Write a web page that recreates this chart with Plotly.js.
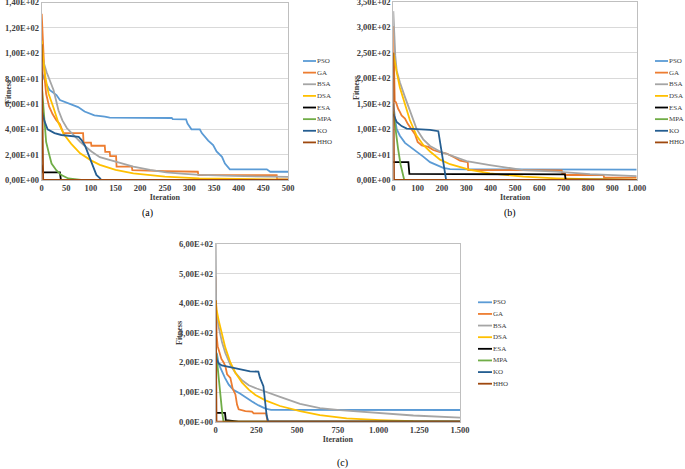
<!DOCTYPE html>
<html>
<head>
<meta charset="utf-8">
<script src="https://cdn.plot.ly/plotly-3.0.1.min.js"></script>
<style>html,body{margin:0;padding:0;background:#fff;}#chart{width:685px;height:469px;}</style>
</head>
<body>
<div id="chart"></div>
<script>
// ---------- data ----------
const algorithms = ['PSO','GA','BSA','DSA','ESA','MPA','KO','HHO'];
const colors = ['#5B9BD5','#ED7D31','#A5A5A5','#FFC000','#000000','#70AD47','#255E91','#9E480E'];

// Panel (a): [iteration, fitness]
const PSO_a = [[0,85],[5,80],[9,76],[16,71],[30,67],[37,63],[47,61.5],[60,60],[74,57.5],[87,54],[107,51],[128,50],[138,49.2],[264,48.9],[266,48],[293,47.9],[296,44.5],[304,40],[321,40],[325,37],[338,31],[348,27.5],[355,22.5],[366,18.3],[372,13],[382,8.4],[457,8.4],[464,6.5],[500,6.5]];
const GA_a = [[0,131],[3,100],[6,80],[9,68],[15,58],[22,52],[30,47],[37,44],[44,37],[84,37],[85,29.5],[100,29.5],[101,27],[128,27],[129,22.2],[138,22.2],[139,18.8],[151,18.8],[152,10.5],[183,10.5],[184,7.8],[250,7],[317,6.5],[318,3.9],[477,3.9],[478,0.5],[500,0.5]];
const BSA_a = [[0,97],[3,94],[10,85],[17,78],[24,71],[34,55],[42,47],[51,41],[65,35],[78,30],[90,26],[101,22.5],[118,18],[139,15.5],[160,13],[186,10.5],[220,8],[253,6],[290,4.8],[321,4],[389,3.2],[450,2.8],[500,2.5]];
const DSA_a = [[0,110],[3,95],[8,80],[14,68],[24,57],[34,45],[45,36],[60,28.5],[78,21],[100,15.5],[118,12],[135,10],[150,8],[186,5.2],[250,2.6],[320,1.3],[400,0.6],[500,0.3]];
const ESA_a = [[0,12],[3,6],[37,6],[39,0],[500,0]];
const MPA_a = [[0,75],[2,65],[5,45],[9,30],[14,22],[20,13],[30,7.5],[40,3.9],[54,1.2],[70,0.2],[80,0],[500,0]];
const KO_a = [[0,55],[2,52],[6,46],[12,40],[26,37],[40,35.5],[60,34.5],[75,34],[81,31.5],[88,27],[94,21],[100,15],[104,10.5],[111,4],[118,1.5],[121,0],[500,0]];
const HHO_a = [[0,107],[3,0],[500,0]];

// Panel (b)
const PSO_b = [[0,150],[3,132],[8,118],[14,100],[27,87],[48,73],[68,66],[96,56],[123,46],[151,35],[178,29],[205,24],[233,21.5],[300,20.8],[1000,20.5]];
const GA_b = [[0,303],[3,200],[6,155],[11,153],[15,145],[20,140],[27,134],[34,127],[48,121],[60,110],[75,100],[89,90],[100,75],[117,68],[144,65],[164,59],[192,55],[219,52],[253,44],[274,38],[294,36],[306,35],[308,19.6],[692,19],[694,13],[705,13],[707,9.8],[864,9.8],[866,4.5],[1000,4.5]];
const BSA_b = [[0,332],[3,280],[8,245],[14,215],[27,192],[48,163],[68,135],[96,100],[123,80],[151,67],[192,56],[247,46],[301,37],[397,29.3],[534,19.6],[671,16.3],[808,11.7],[1000,7.8]];
const DSA_b = [[0,250],[5,235],[14,212],[27,182],[48,150],[68,118],[96,87],[123,69],[151,56],[178,46],[192,40],[233,31],[274,26],[315,20],[397,13],[534,6.5],[671,3.3],[808,1.5],[1000,0.5]];
const ESA_b = [[0,35],[62,35],[66,12],[705,11],[708,1.3],[762,1.3],[765,0],[1000,0]];
const MPA_b = [[0,135],[10,95],[20,60],[30,30],[40,8],[45,0],[1000,0]];
const KO_b = [[0,130],[5,124],[14,114],[34,106],[55,101],[96,100],[151,98.5],[185,96],[190,80],[200,45],[210,15],[217,0],[1000,0]];
const HHO_b = [[0,250],[3,0],[1000,0]];

// Panel (c)
const PSO_c = [[0,235],[8,228],[18,195],[37,170],[57,148],[80,125],[108,108],[149,95],[182,82],[223,68],[264,55],[305,44],[340,40],[1500,39.5]];
const GA_c = [[0,490],[3,350],[6,290],[12,255],[22,232],[35,212],[49,200],[59,188],[70,160],[90,148],[104,112],[121,92],[131,58],[141,42],[182,36],[223,34],[233,28],[310,28],[318,0],[1500,0]];
const BSA_c = [[0,600],[3,380],[8,355],[18,320],[39,268],[59,232],[90,192],[121,165],[162,140],[203,123],[252,112],[313,99],[395,84],[518,60],[640,46],[763,39],[1009,28],[1214,21],[1500,14]];
const DSA_c = [[0,410],[5,380],[18,343],[39,290],[59,250],[90,200],[121,165],[162,132],[203,108],[244,90],[305,72],[395,53],[518,36],[640,22],[804,11.5],[1009,5.5],[1214,1.5],[1500,0.5]];
const ESA_c = [[0,30],[57,30],[62,5],[110,3],[140,0],[1500,0]];
const MPA_c = [[0,250],[10,190],[20,130],[30,80],[40,30],[48,0],[1500,0]];
const KO_c = [[0,230],[6,210],[18,197],[37,190],[88,184],[149,176],[211,170],[262,169],[272,148],[293,120],[303,75],[313,20],[323,0],[1500,0]];
const HHO_c = [[0,410],[5,0],[1500,0]];

// ticks
const xTickA = [0,50,100,150,200,250,300,350,400,450,500];
const xLabA = ['0','50','100','150','200','250','300','350','400','450','500'];
const yTickA = [0,20,40,60,80,100,120,140];
const yLabA = ['0,00E+00','2,00E+01','4,00E+01','6,00E+01','8,00E+01','1,00E+02','1,20E+02','1,40E+02'];
const xTickB = [0,100,200,300,400,500,600,700,800,900,1000];
const xLabB = ['0','100','200','300','400','500','600','700','800','900','1.000'];
const yTickB = [0,50,100,150,200,250,300,350];
const yLabB = ['0,00E+00','5,00E+01','1,00E+02','1,50E+02','2,00E+02','2,50E+02','3,00E+02','3,50E+02'];
const xTickC = [0,250,500,750,1000,1250,1500];
const xLabC = ['0','250','500','750','1.000','1.250','1.500'];
const yTickC = [0,100,200,300,400,500,600];
const yLabC = ['0,00E+00','1,00E+02','2,00E+02','3,00E+02','4,00E+02','5,00E+02','6,00E+02'];

const panels = [
  {series:[PSO_a,GA_a,BSA_a,DSA_a,ESA_a,MPA_a,KO_a,HHO_a], xa:'x', ya:'y'},
  {series:[PSO_b,GA_b,BSA_b,DSA_b,ESA_b,MPA_b,KO_b,HHO_b], xa:'x2', ya:'y2'},
  {series:[PSO_c,GA_c,BSA_c,DSA_c,ESA_c,MPA_c,KO_c,HHO_c], xa:'x3', ya:'y3'}
];

// ---------- build ----------
const W = 685, H = 469;
const px = v => v / W;
const py = v => 1 - v / H;

const traces = [];
panels.forEach(p => {
  p.series.forEach((s, i) => {
    traces.push({
      type: 'scatter', mode: 'lines',
      x: s.map(d => d[0]), y: s.map(d => d[1]),
      name: algorithms[i], xaxis: p.xa, yaxis: p.ya,
      line: {color: colors[i], width: 1.8},
      showlegend: false, hoverinfo: 'skip'
    });
  });
});

const SERIF = 'Liberation Serif, Times New Roman, serif';
const tickFont = {family: SERIF, size: 8.5, color: '#404040', weight: 'bold'};
const titleFont = {family: SERIF, size: 8, color: '#404040', weight: 'bold'};

function xAxis(dom, range, tv, tt, anchor) {
  return {domain: dom, range: range, anchor: anchor, tickmode: 'array', tickvals: tv, ticktext: tt,
    tickfont: tickFont, showgrid: false, zeroline: false, showline: true, linecolor: '#BFBFBF', linewidth: 1,
    mirror: true, ticks: '', fixedrange: true, ticklabeloverflow: 'allow',
    title: {text: 'Iteration', font: titleFont, standoff: 2}};
}
function yAxis(dom, range, tv, tt, anchor) {
  return {domain: dom, range: range, anchor: anchor, tickmode: 'array', tickvals: tv, ticktext: tt,
    tickfont: tickFont, showgrid: true, gridcolor: '#D9D9D9', gridwidth: 1, zeroline: false,
    showline: true, linecolor: '#BFBFBF', linewidth: 1, mirror: true, ticks: '', fixedrange: true,
    ticklabeloverflow: 'allow'};
}

const layout = {
  width: W, height: H,
  margin: {l: 0, r: 0, t: 0, b: 0},
  paper_bgcolor: '#ffffff', plot_bgcolor: '#ffffff',
  showlegend: false,
  xaxis: xAxis([px(41.7), px(288)], [0, 500], xTickA, xLabA, 'y'),
  yaxis: yAxis([py(180), py(2.5)], [0, 140], yTickA, yLabA, 'x'),
  xaxis2: xAxis([px(393.3), px(636.7)], [0, 1000], xTickB, xLabB, 'y2'),
  yaxis2: yAxis([py(180), py(2)], [0, 350], yTickB, yLabB, 'x2'),
  xaxis3: xAxis([px(215.7), px(460)], [0, 1500], xTickC, xLabC, 'y3'),
  yaxis3: yAxis([py(421.7), py(244)], [0, 600], yTickC, yLabC, 'x3'),
  shapes: [], annotations: []
};

// y-axis titles ("Fitness"), rotated
[[8, 92], [356, 88], [179, 333]].forEach(t => {
  layout.annotations.push({xref: 'paper', yref: 'paper', x: px(t[0]), y: py(t[1]),
    xanchor: 'center', yanchor: 'middle', text: 'Fitness', textangle: -90,
    showarrow: false, font: titleFont, borderpad: 0});
});

// manual legends
const legends = [
  {x0: 303, x1: 316, tx: 317, y0: 61},
  {x0: 655, x1: 668, tx: 669, y0: 61},
  {x0: 478, x1: 492, tx: 493, y0: 302.3}
];
const legFont = {family: SERIF, size: 7, color: '#404040'};
legends.forEach(L => {
  algorithms.forEach((name, i) => {
    const yy = L.y0 + i * 11.63;
    layout.shapes.push({type: 'line', xref: 'paper', yref: 'paper',
      x0: px(L.x0), x1: px(L.x1), y0: py(yy), y1: py(yy),
      line: {color: colors[i], width: 1.8}});
    layout.annotations.push({xref: 'paper', yref: 'paper', x: px(L.tx - 1), y: py(yy),
      xanchor: 'left', yanchor: 'middle', text: name, showarrow: false, font: legFont, borderpad: 0});
  });
});

// captions
const capFont = {family: SERIF, size: 10, color: '#000000'};
[['(a)', 147, 213], ['(b)', 510, 213], ['(c)', 342, 463]].forEach(c => {
  layout.annotations.push({xref: 'paper', yref: 'paper', x: px(c[1]), y: py(c[2]),
    xanchor: 'center', yanchor: 'middle', text: c[0], showarrow: false, font: capFont});
});

Plotly.newPlot('chart', traces, layout, {staticPlot: true, displayModeBar: false});
</script>
</body>
</html>
